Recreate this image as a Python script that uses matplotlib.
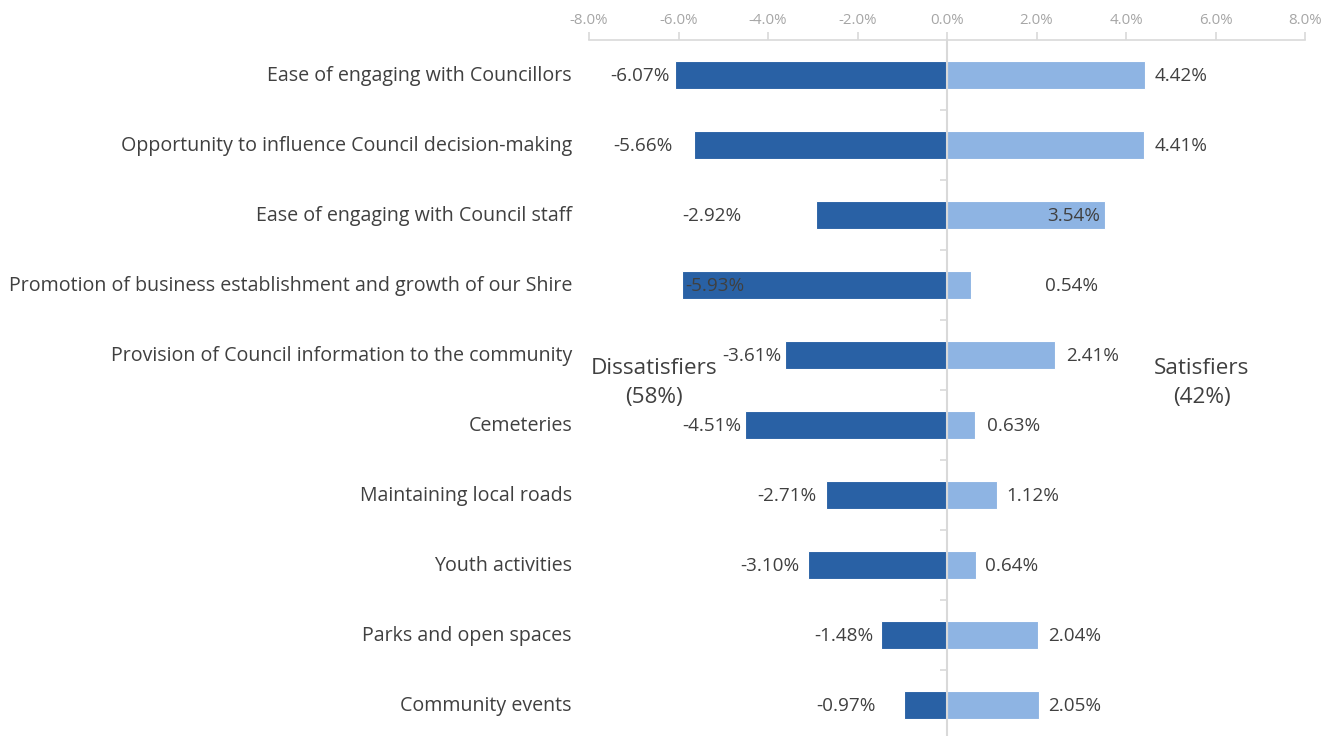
import matplotlib.pyplot as plt
from matplotlib.transforms import blended_transform_factory

plt.rcParams['font.family'] = ['Open Sans', 'DejaVu Sans']

# categories top to bottom
categories = ["Ease of engaging with Councillors",
              "Opportunity to influence Council decision-making",
              "Ease of engaging with Council staff",
              "Promotion of business establishment and growth of our Shire",
              "Provision of Council information to the community",
              "Cemeteries",
              "Maintaining local roads",
              "Youth activities",
              "Parks and open spaces",
              "Community events"]
dissatisfiers = [-6.07, -5.66, -2.92, -5.93, -3.61, -4.51, -2.71, -3.10, -1.48, -0.97]
satisfiers = [4.42, 4.41, 3.54, 0.54, 2.41, 0.63, 1.12, 0.64, 2.04, 2.05]
# where the data labels sit (in % units), as placed in the original
neg_label_x = [-6.86, -6.79, -5.25, -5.18, -4.36, -5.25, -3.58, -3.96, -2.30, -2.26]
pos_label_x = [5.23, 5.23, 2.82, 2.79, 3.26, 1.50, 1.92, 1.45, 2.86, 2.86]
xticks = [-8, -6, -4, -2, 0, 2, 4, 6, 8]

dark = "#2961A5"
light = "#8EB4E3"
txt = "#404040"
grey = "#D9D9D9"

fig = plt.figure(figsize=(13.35, 7.36), dpi=100)
ax = fig.add_axes([589/1335, 0, 716/1335, 1 - 40/736])

y = list(range(len(categories)))
ax.barh(y, dissatisfiers, height=0.4, color=dark, edgecolor="white", linewidth=0.8)
ax.barh(y, satisfiers, height=0.4, color=light, edgecolor="white", linewidth=0.8)

ax.set_xlim(-8, 8)
ax.set_ylim(9.443, -0.5)

# top axis
ax.xaxis.tick_top()
ax.set_xticks(xticks)
ax.set_xticklabels([f"{t:.1f}%" for t in xticks])
ax.tick_params(axis="x", colors=grey, labelcolor="#A6A6A6", labelsize=10.8, length=6, width=1.2, pad=3)
for s in ["bottom", "right"]:
    ax.spines[s].set_visible(False)
ax.spines["top"].set_color(grey)
ax.spines["top"].set_linewidth(1.2)

# zero line with ticks between categories
ax.spines["left"].set_position(("data", 0))
ax.spines["left"].set_color(grey)
ax.spines["left"].set_linewidth(1.5)
ax.set_yticks([i + 0.5 for i in range(len(categories) - 1)])
ax.set_yticklabels([])
ax.tick_params(axis="y", colors=grey, length=5, width=1.2, direction="out")

# category names
tr = blended_transform_factory(fig.transFigure, ax.transData)
for i, c in enumerate(categories):
    ax.text(572/1335, i + 0.02, c, transform=tr, ha="right", va="center", fontsize=14.1, color=txt)

# data labels
for i in y:
    ax.text(neg_label_x[i], i + 0.02, f"{dissatisfiers[i]:.2f}%", ha="center", va="center", fontsize=13.6, color=txt)
    ax.text(pos_label_x[i], i + 0.02, f"{satisfiers[i]:.2f}%", ha="center", va="center", fontsize=13.6, color=txt)

ax.text(-6.55, 4.4, "Dissatisfiers\n(58%)", ha="center", va="center", fontsize=16.2, color=txt, linespacing=1.45)
ax.text(5.69, 4.4, "Satisfiers\n(42%)", ha="center", va="center", fontsize=16.2, color=txt, linespacing=1.45)

fig.savefig("out.png", dpi=100)
